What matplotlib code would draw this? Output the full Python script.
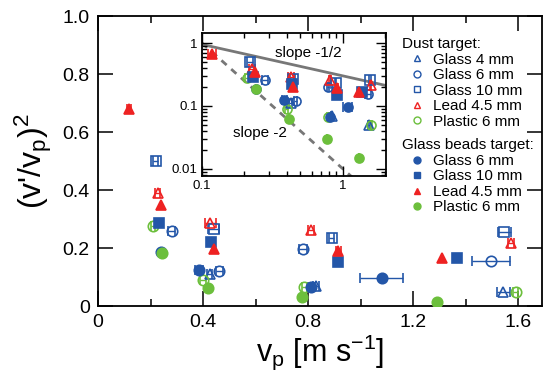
import numpy as np
import matplotlib.pyplot as plt
from matplotlib.lines import Line2D
from matplotlib.ticker import FuncFormatter, MultipleLocator, FixedLocator

plt.rcParams['font.family'] = ['Liberation Sans', 'DejaVu Sans']
plt.rcParams['mathtext.default'] = 'regular'

blue = '#2356a8'
red = '#ee2222'
green = '#6cbf3c'

# Dust target (open symbols)
dust_glass4_x = [0.425, 0.83, 1.543]
dust_glass4_y = [0.11, 0.07, 0.05]
dust_glass4_xerr = [0.01, 0.01, 0.025]

dust_glass6_x = [0.28, 0.462, 0.78, 1.497]
dust_glass6_y = [0.26, 0.12, 0.197, 0.155]
dust_glass6_xerr = [0.012, 0.012, 0.014, 0.072]

dust_glass10_x = [0.22, 0.44, 0.89, 1.547]
dust_glass10_y = [0.50, 0.265, 0.235, 0.255]
dust_glass10_xerr = [0.01, 0.02, 0.01, 0.025]

dust_lead_x = [0.227, 0.428, 0.81, 1.573]
dust_lead_y = [0.39, 0.286, 0.262, 0.217]
dust_lead_xerr = [0.01, 0.02, 0.012, 0.012]

dust_plastic_x = [0.209, 0.40, 0.785, 1.59]
dust_plastic_y = [0.275, 0.09, 0.066, 0.05]
dust_plastic_xerr = [0.008, 0.01, 0.01, 0.01]

# Glass beads target (filled symbols)
beads_glass6_x = [0.24, 0.383, 0.81, 1.08]
beads_glass6_y = [0.185, 0.124, 0.066, 0.097]
beads_glass6_xerr = [0.0, 0.015, 0.012, 0.082]

beads_glass10_x = [0.232, 0.432, 0.915, 1.365]
beads_glass10_y = [0.285, 0.22, 0.152, 0.165]
beads_glass10_xerr = [0.0, 0.0, 0.01, 0.0]

beads_lead_x = [0.118, 0.239, 0.44, 0.915, 1.31]
beads_lead_y = [0.68, 0.35, 0.197, 0.19, 0.166]
beads_lead_xerr = [0.008, 0.0, 0.0, 0.01, 0.0]

beads_plastic_x = [0.243, 0.417, 0.775, 1.29]
beads_plastic_y = [0.183, 0.062, 0.03, 0.015]
beads_plastic_xerr = [0.0, 0.0, 0.0, 0.0]

series = [
    (dust_glass4_x, dust_glass4_y, dust_glass4_xerr, '^', blue, False, 'Glass 4 mm'),
    (dust_glass6_x, dust_glass6_y, dust_glass6_xerr, 'o', blue, False, 'Glass 6 mm'),
    (dust_glass10_x, dust_glass10_y, dust_glass10_xerr, 's', blue, False, 'Glass 10 mm'),
    (dust_lead_x, dust_lead_y, dust_lead_xerr, '^', red, False, 'Lead 4.5 mm'),
    (dust_plastic_x, dust_plastic_y, dust_plastic_xerr, 'o', green, False, 'Plastic 6 mm'),
    (beads_glass6_x, beads_glass6_y, beads_glass6_xerr, 'o', blue, True, 'Glass 6 mm'),
    (beads_glass10_x, beads_glass10_y, beads_glass10_xerr, 's', blue, True, 'Glass 10 mm'),
    (beads_lead_x, beads_lead_y, beads_lead_xerr, '^', red, True, 'Lead 4.5 mm'),
    (beads_plastic_x, beads_plastic_y, beads_plastic_xerr, 'o', green, True, 'Plastic 6 mm'),
]


def draw(ax, ms):
    for x, y, xerr, m, c, filled, lab in series:
        ax.errorbar(x, y, xerr=xerr, fmt=m, ms=ms, mfc=c if filled else 'none',
                    mec=c, mew=1.2, ecolor=c, elinewidth=1.0, capsize=3.5,
                    capthick=1.0, zorder=3)


fig = plt.figure(figsize=(5.45, 3.73), dpi=100)
ax = fig.add_axes([0.1798, 0.1796, 0.8147, 0.7775])
draw(ax, 7.5)

ax.set_xlim(0, 1.69)
ax.set_ylim(0, 1.0)
ax.xaxis.set_major_locator(FixedLocator([0, 0.4, 0.8, 1.2, 1.6]))
ax.xaxis.set_minor_locator(MultipleLocator(0.2))
ax.yaxis.set_major_locator(FixedLocator([0, 0.2, 0.4, 0.6, 0.8, 1.0]))
fmt = FuncFormatter(lambda v, p: '0' if abs(v) < 1e-9 else f'{v:.1f}')
ax.xaxis.set_major_formatter(fmt)
ax.yaxis.set_major_formatter(fmt)
ax.tick_params(which='both', direction='in', top=True, right=True, labelsize=14, width=1.1)
ax.tick_params(which='major', length=11, pad=6)
ax.tick_params(which='minor', length=5)
for s in ax.spines.values():
    s.set_linewidth(1.3)

ax.set_xlabel('v$_\\mathregular{p}$ [m s$^\\mathregular{-1}$]', fontsize=22, labelpad=1)
ax.set_ylabel("(v'/v$_\\mathregular{p}$)$^\\mathregular{2}$", fontsize=23, labelpad=6)

# legends
dust_handles = [Line2D([], [], ls='none', marker=m, ms=5, mfc='none', mec=c, mew=1.0, label=lab)
                for x, y, e, m, c, f, lab in series[:5]]
beads_handles = [Line2D([], [], ls='none', marker=m, ms=5, mfc=c, mec=c, mew=1.0, label=lab)
                 for x, y, e, m, c, f, lab in series[5:]]
leg_kw = dict(loc='upper left', frameon=False, alignment='left', fontsize=11,
              title_fontsize=11, handlelength=1.95, handletextpad=0.1, borderpad=0,
              borderaxespad=0, labelspacing=0.1)
leg1 = ax.legend(handles=dust_handles, title='Dust target:', bbox_to_anchor=(0.685, 0.927), **leg_kw)
ax.add_artist(leg1)
ax.legend(handles=beads_handles, title='Glass beads target:', bbox_to_anchor=(0.685, 0.578), **leg_kw)

# inset
axin = fig.add_axes([0.3706, 0.528, 0.3376, 0.3834])
xl = np.array([0.1, 2.02])
axin.plot(xl, 0.95 * (xl / 0.1) ** -0.5, color='#777777', lw=2, zorder=1)
axin.plot(xl, 0.01 * xl ** -2.0, color='#777777', lw=2, ls=(0, (2.5, 2.2)), zorder=1)
draw(axin, 6.5)
axin.set_xscale('log')
axin.set_yscale('log')
axin.set_xlim(0.1, 2.02)
axin.set_ylim(0.0077, 1.44)
axin.xaxis.set_major_locator(FixedLocator([0.1, 1]))
axin.yaxis.set_major_locator(FixedLocator([0.01, 0.1, 1]))
lf = FuncFormatter(lambda v, p: f'{v:g}')
axin.xaxis.set_major_formatter(lf)
axin.yaxis.set_major_formatter(lf)
axin.tick_params(which='both', direction='in', top=True, right=True, labelsize=9.5, width=1.0)
axin.tick_params(which='major', length=7, pad=3)
axin.tick_params(which='minor', length=3.5, labelbottom=False, labelleft=False)
for s in axin.spines.values():
    s.set_linewidth(1.3)
axin.text(0.565, 0.69, 'slope -1/2', fontsize=11, ha='center', va='center')
axin.text(0.258, 0.037, 'slope -2', fontsize=11, ha='center', va='center')

fig.savefig('out.png', dpi=100)
